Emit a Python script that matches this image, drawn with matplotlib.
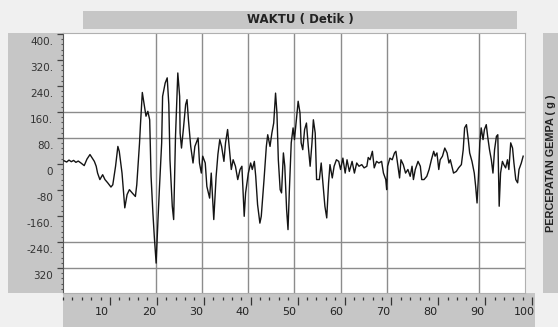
import matplotlib as mpl
import matplotlib.pyplot as plt
import matplotlib.ticker as mtick
from matplotlib.patches import Rectangle
from matplotlib.transforms import ScaledTranslation

mpl.rcParams['font.family'] = ['DejaVu Sans']

# waktu (detik) dan percepatan
waktu = [0.0, 0.6, 1.1, 1.6, 2.1, 2.6, 3.1, 3.6, 4.4, 5.0, 5.65, 6.6, 7.0, 7.3, 7.8,
         8.4, 8.9, 9.5, 10.2, 10.6, 11.2, 11.7, 12.0, 12.6, 13.2, 13.7, 14.2, 14.8,
         15.5, 15.8, 16.4, 16.6, 17.0, 17.3, 17.8, 18.2, 18.6, 18.9, 19.3, 19.6,
         20.0, 20.4, 20.7, 21.2, 21.4, 21.96, 22.4, 22.75, 23.0, 23.5, 23.8, 24.2,
         24.7, 25.1, 25.2, 25.5, 25.9, 26.4, 26.7, 27.0, 27.5, 28.0, 28.4, 29.1,
         29.4, 29.8, 30.1, 30.65, 31.0, 31.6, 31.95, 32.5, 33.0, 33.4, 33.8, 34.2,
         34.7, 35.05, 35.5, 35.9, 36.3, 36.7, 37.2, 37.7, 38.2, 38.6, 39.1, 39.4,
         40.0, 40.5, 40.85, 41.3, 41.6, 42.0, 42.5, 42.8, 43.4, 43.9, 44.2, 44.7,
         45.1, 45.5, 45.9, 46.2, 46.5, 46.9, 47.2, 47.6, 47.9, 48.3, 48.6, 48.9,
         49.3, 49.7, 50.0, 50.5, 50.8, 51.2, 51.45, 51.8, 52.2, 52.6, 53.0, 53.4,
         53.8, 54.1, 54.5, 54.8, 55.4, 55.8, 56.1, 56.6, 57.0, 57.4, 57.7, 58.2,
         58.6, 59.1, 59.6, 60.0, 60.5, 61.0, 61.4, 61.9, 62.5, 63.0, 63.5, 64.0,
         64.6, 65.1, 65.7, 66.0, 66.4, 66.9, 67.3, 67.8, 68.3, 68.9, 69.3, 69.8,
         70.0, 70.2, 70.7, 71.2, 71.7, 72.0, 72.4, 72.8, 73.1, 73.6, 74.1, 74.6,
         75.1, 75.5, 75.8, 76.2, 76.8, 77.3, 77.6, 78.1, 78.7, 79.2, 79.7, 80.2,
         80.5, 80.9, 81.3, 81.6, 82.1, 82.6, 83.1, 83.5, 83.8, 84.5, 85.1, 85.6,
         86.2, 86.6, 86.9, 87.3, 87.7, 88.0, 88.5, 89.0, 89.3, 89.6, 89.9, 90.2,
         90.5, 90.9, 91.2, 91.6, 91.9, 92.3, 92.7, 93.05, 93.4, 93.8, 94.1, 94.4,
         94.7, 95.1, 95.4, 95.8, 96.2, 96.5, 96.9, 97.3, 97.6, 98.0, 98.4, 98.7,
         99.2, 99.6]
percepatan = [10, 6, 12, 7, 11, 5, 9, 4, -5, 15, 29, 8, -7, -28, -48,
              -33, -48, -58, -71, -64, -7, 54, 39, -28, -135, -94, -79, -89,
              -100, -64, 65, 121, 220, 193, 147, 162, 136, -38, -151, -223,
              -305, -171, -79, 65, 208, 249, 265, 183, 13, -130, -171, 85,
              280, 208, 95, 49, 106, 183, 198, 136, 54, 3, 54, 80,
              3, -28, 24, 3, -69, -105, -28, -171, -40, 30, 75, 54,
              8, 65, 106, 44, -17, 13, -7, -48, -17, -7, -161, -89,
              -28, 3, -17, 8, -38, -125, -182, -161, -48, 54, 90, 54,
              95, 126, 218, 157, 13, -79, -89, 34, -7, -141, -202, -79,
              65, 111, 75, 147, 193, 157, 65, 44, 106, 126, 54, -7,
              65, 136, 95, -48, -48, 3, -48, -130, -166, -58, -2, -43,
              -7, 13, 8, -17, 18, -28, 13, -23, 8, -28, 3, -7,
              -2, -12, -7, 20, 13, 39, -12, 8, 3, 8, -28, -48,
              -79, -7, 18, 13, 34, 39, -2, -43, 13, -2, -28, -17,
              -38, -7, -48, -17, 8, -7, -48, -48, -38, -17, 13, 39,
              24, 34, -17, 13, 24, 49, 34, 3, 13, -28, -23, -12,
              -2, 44, 111, 121, 75, 34, 8, -28, -69, -120, -38, 65,
              111, 75, 106, 121, 85, 44, 13, -28, 44, 85, 90, -130,
              -28, 8, -2, -12, 13, -17, 65, 49, 3, -48, -58, -17,
              3, 24]

y_ticks = [400, 320, 240, 160, 80, 0, -80, -160, -240, -320]
y_labels = ['400.', '320.', '240.', '160.', '80.', '0', '-80', '-160.', '-240.', '320']
x_ticks = [10, 20, 30, 40, 50, 60, 70, 80, 90, 100]
x_labels = ['10', '20', '30', '40', '50', '60', '70', '80', '90', '100']
grid_x = [20, 30, 40, 50, 60, 70, 90]
grid_y = [160, 80, -240, -320]

W, H = 558, 327
panel_color = '#c6c6c6'
grid_color = '#8c8c8c'


def box(x0, y0, x1, y1):
    # pixel box (from top left) -> figure fraction
    return [x0 / W, 1 - y1 / H, (x1 - x0) / W, (y1 - y0) / H]


def bare(ax):
    ax.set_xticks([])
    ax.set_yticks([])
    for s in ax.spines.values():
        s.set_visible(False)


fig = plt.figure(figsize=(W / 100, H / 100), dpi=100)
fig.patch.set_facecolor('#f0f0f0')

# gray panels behind the axes
for b in [box(8, 33, 63, 293), box(63, 293, 535, 327)]:
    fig.add_artist(Rectangle((b[0], b[1]), b[2], b[3], transform=fig.transFigure,
                             facecolor=panel_color, edgecolor='none', zorder=-1))

# title banner
tax = fig.add_axes(box(83, 11, 517, 29), facecolor=panel_color)
bare(tax)
tax.text(0.5, 0.5, 'WAKTU ( Detik )', ha='center', va='center', transform=tax.transAxes,
         fontsize=8.5, fontweight='bold', color='#222222')

# right label panel
rax = fig.add_axes(box(543, 33, 558, 293), facecolor=panel_color)
bare(rax)
rax.text(0.5, 0.5, 'PERCEPATAN GEMPA ( g )', ha='center', va='center', rotation=90,
         transform=rax.transAxes, fontsize=7.8, fontweight='bold', color='#222222',
         family='Liberation Sans')

# main plot
ax = fig.add_axes(box(63, 33, 525, 293), facecolor='white')
ax.plot(waktu, percepatan, color='#141414', lw=1.0, zorder=3)
ax.set_xlim(-0.2, 100)
ax.set_ylim(-397, 403)

ax.set_xticks(grid_x)
ax.tick_params(axis='x', length=0, labelbottom=False)
ax.grid(axis='x', color=grid_color, lw=1.0, zorder=1)
ax.hlines(grid_y, -0.2, 100, color=grid_color, lw=1.0, zorder=1)

ax.set_yticks(y_ticks)
ax.set_yticklabels(y_labels)
ax.yaxis.set_minor_locator(mtick.MultipleLocator(16))
ax.tick_params(axis='y', which='major', length=4, width=0.9, color='#444444',
               labelsize=7.5, labelcolor='#333333', pad=3)
ax.tick_params(axis='y', which='minor', length=1.8, width=0.8, color='#555555')
for lab in ax.get_yticklabels():
    lab.set_transform(lab.get_transform() + ScaledTranslation(0, -0.07, fig.dpi_scale_trans))

for name, s in ax.spines.items():
    s.set_color('#b0b0b0')
    s.set_linewidth(0.8)
ax.spines['left'].set_color('#555555')

# time ruler at the bottom
bax = fig.add_axes(box(63, 296, 535, 297), facecolor='none')
for s in bax.spines.values():
    s.set_visible(False)
bax.set_yticks([])
bax.set_xlim(0, 100.6)
bax.set_xticks(x_ticks)
bax.set_xticklabels(x_labels)
bax.xaxis.set_minor_locator(mtick.MultipleLocator(2))
bax.tick_params(axis='x', which='major', length=5.5, width=0.9, color='#333333',
                labelsize=8, labelcolor='#222222', pad=1.5)
bax.tick_params(axis='x', which='minor', length=2.5, width=0.9, color='#333333')
for lab in bax.get_xticklabels():
    lab.set_transform(lab.get_transform() + ScaledTranslation(-0.08, 0, fig.dpi_scale_trans))

fig.savefig('out.png', dpi=100, facecolor=fig.get_facecolor())
